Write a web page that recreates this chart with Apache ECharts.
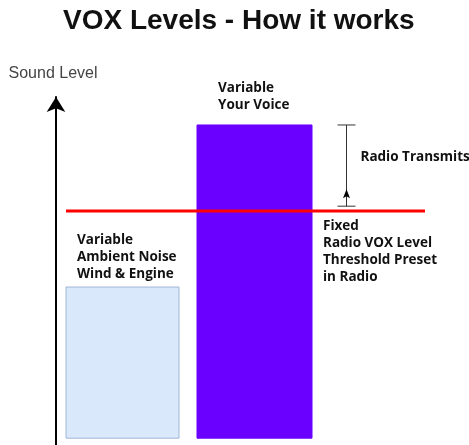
<!DOCTYPE html>
<html><head><meta charset="utf-8">
<script src="https://cdn.jsdelivr.net/npm/echarts@6/dist/echarts.min.js"></script>
<style>html,body{margin:0;padding:0;background:#fff}#c{width:469px;height:445px}</style>
</head><body><div id="c"></div>
<script>
// ---- data ----
const titleText = 'VOX Levels - How it works';
const axisName = 'Sound Level';
const barNames = ['Ambient Noise', 'Your Voice'];
const barLabels = ['Variable\nAmbient Noise\nWind & Engine', 'Variable\nYour Voice'];
const barStart = [2.5, 35.25];
const barEnd = [30.75, 64];
const barLevel = [44.3, 91.8];
const thresholdLevel = 66.6;
const thresholdSpan = [2.5, 92.25];
const thresholdLabel = 'Fixed\nRadio VOX Level\nThreshold Preset\nin Radio';
const transmitX = 72.5;
const transmitRange = [68, 91.8];
const transmitLabel = 'Radio Transmits';

// ---- styles ----
const barFill = ['#dae8fc', '#6a00ff'];
const barStroke = ['#9fb6d6', '#6a00ff'];
const labelDx = [11, 21];
const labelGap = [4.5, 11.5];
const labelFont = 'bold 13.5px "Open Sans", sans-serif';
const textColor = '#111';

const chart = echarts.init(document.getElementById('c'), null, {renderer: 'canvas'});

const barData = barNames.map((n, i) => ({name: n, value: [barStart[i], barEnd[i], barLevel[i]]}));

chart.setOption({
  animation: false,
  backgroundColor: '#fff',
  title: {
    text: titleText, left: 63, top: 7, padding: 0,
    textStyle: {fontFamily: '"Liberation Sans", Arial, sans-serif', fontWeight: 'bold', fontSize: 28, color: '#111'}
  },
  grid: {left: 56, right: 13, top: 97, bottom: 0, containLabel: false},
  xAxis: {type: 'value', min: 0, max: 100, show: false},
  yAxis: {
    type: 'value', min: -2, max: 100,
    name: axisName, nameLocation: 'end', nameGap: 15,
    nameTextStyle: {fontFamily: '"Liberation Sans", Arial, sans-serif', fontSize: 16, color: '#444', align: 'center', padding: [0, 6, 0, 0]},
    axisLine: {show: true, symbol: ['none', 'arrow'], symbolSize: [14, 15], lineStyle: {color: '#000', width: 2}},
    axisTick: {show: false}, axisLabel: {show: false}, splitLine: {show: false}
  },
  series: [
    {
      type: 'custom', name: 'bars', silent: true,
      data: barData,
      renderItem(params, api) {
        const i = params.dataIndex;
        const tl = api.coord([api.value(0), api.value(2)]);
        const br = api.coord([api.value(1), 0]);
        return {type: 'group', children: [
          {type: 'rect', shape: {x: tl[0], y: tl[1], width: br[0] - tl[0], height: br[1] - tl[1]},
            style: {fill: barFill[i], stroke: barStroke[i], lineWidth: 1}},
          {type: 'text', x: tl[0] + labelDx[i], y: tl[1] - labelGap[i],
            style: {text: barLabels[i], fill: textColor, font: labelFont, lineHeight: 17, align: 'left', verticalAlign: 'bottom'}}
        ]};
      }
    },
    {
      type: 'line', name: 'threshold', silent: true, symbol: 'none',
      data: [[thresholdSpan[0], thresholdLevel], [thresholdSpan[1], thresholdLevel]],
      lineStyle: {color: '#ff0000', width: 3}, z: 5
    },
    {
      type: 'custom', name: 'thresholdLabel', silent: true,
      data: [[barEnd[1], thresholdLevel]],
      renderItem(params, api) {
        const p = api.coord([api.value(0), api.value(1)]);
        return {type: 'text', x: p[0] + 11, y: p[1] + 6.5,
          style: {text: thresholdLabel, fill: textColor, font: labelFont, lineHeight: 17, align: 'left', verticalAlign: 'top'}};
      }
    },
    {
      type: 'custom', name: 'transmit', silent: true,
      data: [[transmitX, transmitRange[0], transmitRange[1]]],
      renderItem(params, api) {
        const top = api.coord([api.value(0), api.value(2)]);
        const bot = api.coord([api.value(0), api.value(1)]);
        const x = Math.round(top[0]) + 0.5;
        const c = '#333';
        return {type: 'group', children: [
          {type: 'line', shape: {x1: x, y1: top[1], x2: x, y2: bot[1]}, style: {stroke: c, lineWidth: 1}},
          {type: 'line', shape: {x1: x - 9, y1: top[1], x2: x + 9, y2: top[1]}, style: {stroke: c, lineWidth: 1}},
          {type: 'line', shape: {x1: x - 9, y1: bot[1], x2: x + 9, y2: bot[1]}, style: {stroke: c, lineWidth: 1}},
          {type: 'polygon', shape: {points: [[x, bot[1] - 17], [x + 3.5, bot[1] - 8], [x, bot[1] - 10], [x - 3.5, bot[1] - 8]]}, style: {fill: '#000'}},
          {type: 'text', x: x + 14, y: top[1] + 32,
            style: {text: transmitLabel, fill: textColor, font: labelFont, align: 'left', verticalAlign: 'middle'}}
        ]};
      }
    }
  ]
});
</script></body></html>
